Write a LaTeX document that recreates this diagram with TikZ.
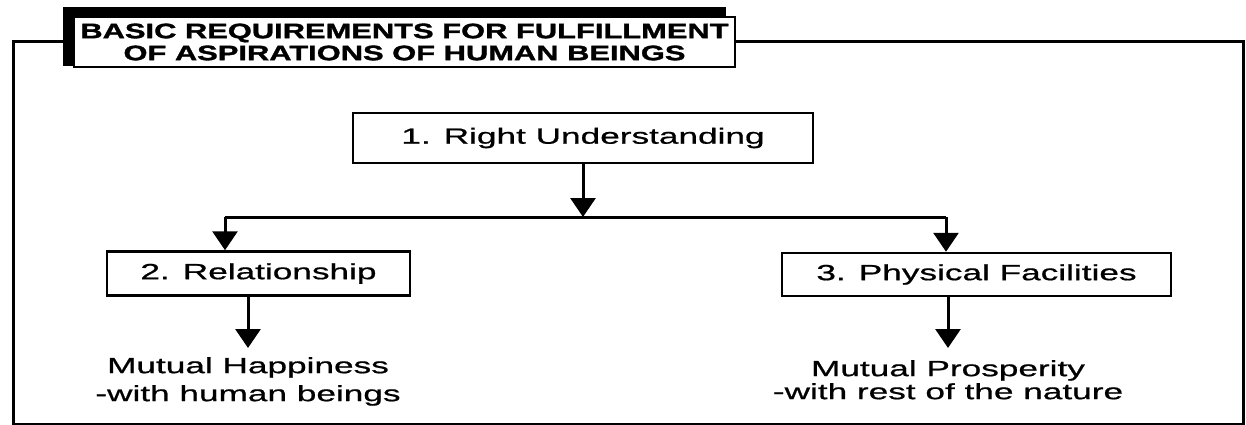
\documentclass[tikz,border=0pt]{standalone}
\usepackage{fontspec}
\setmainfont{Liberation Sans}[FakeStretch=1.6, FakeBold=0.8]
\newfontfamily\headfont{Liberation Sans}[FakeStretch=1.47, FakeBold=1.5]
\usetikzlibrary{arrows.meta,calc,backgrounds}

\tikzset{
  frameline/.style={line width=3pt},
  stepbox/.style={draw, line width=2.5pt, rectangle, inner sep=0pt,
    font=\fontsize{22}{26}\selectfont},
  outcome/.style={align=center, inner xsep=0pt, anchor=north,
    font=\fontsize{22}{28}\selectfont},
  flow/.style={line width=3pt, -{Triangle[width=25pt,length=19pt]}},
}

\begin{document}
\begin{tikzpicture}[x=1pt,y=-1pt]
    \useasboundingbox (0,0) rectangle (1246,425);

    % Heading
    \node[draw, line width=2pt, fill=white, minimum width=661pt, minimum height=50pt,
          align=center, font=\headfont\bfseries\fontsize{21}{22}\selectfont]
          (title) at (404.5,42) {BASIC REQUIREMENTS FOR FULFILLMENT\\OF ASPIRATIONS OF HUMAN BEINGS};

    % Outer frame and heading shadow
    \coordinate (frameBL) at (13,424);
    \coordinate (frameTR) at (1243,42);
    \begin{scope}[on background layer]
        \draw[frameline] ($(title.west)+(-10,0)$) -| (frameBL) -| (frameTR) -- (title.east);
        \fill ($(title.north west)+(-10,-9)$) rectangle ($(title.south east)+(-10,-2)$);
    \end{scope}

    % Steps
    \node[stepbox, minimum width=460pt, minimum height=50pt] (understand) at (583,138) {1. Right Understanding};
    \node[stepbox, minimum width=303pt, minimum height=44pt] (relation) at (258.5,273.5) {2. Relationship};
    \node[stepbox, minimum width=389pt, minimum height=43pt] (facility) at (976.5,274.5) {3. Physical Facilities};

    % Outcomes
    \node[outcome, inner ysep=9pt] (happy) at (248,348) {Mutual Happiness\\-with human beings};
    \node[outcome, inner ysep=12pt, font=\fontsize{22}{23}\selectfont] (prosper) at (948,348) {Mutual Prosperity\\-with rest of the nature};

    % Branching
    \coordinate (split) at (583,217);
    \coordinate (lbranch) at (225,217);
    \coordinate (rbranch) at (946,217);
    \draw[flow] (understand.south) -- (split);
    \draw[frameline] (lbranch) -- (rbranch);
    \draw[flow] (lbranch) -- (lbranch |- relation.north);
    \draw[flow] (rbranch) -- (rbranch |- facility.north);
    \draw[flow] (relation.south -| happy.north) -- (happy.north);
    \draw[flow] (facility.south -| prosper.north) -- (prosper.north);
\end{tikzpicture}
\end{document}
